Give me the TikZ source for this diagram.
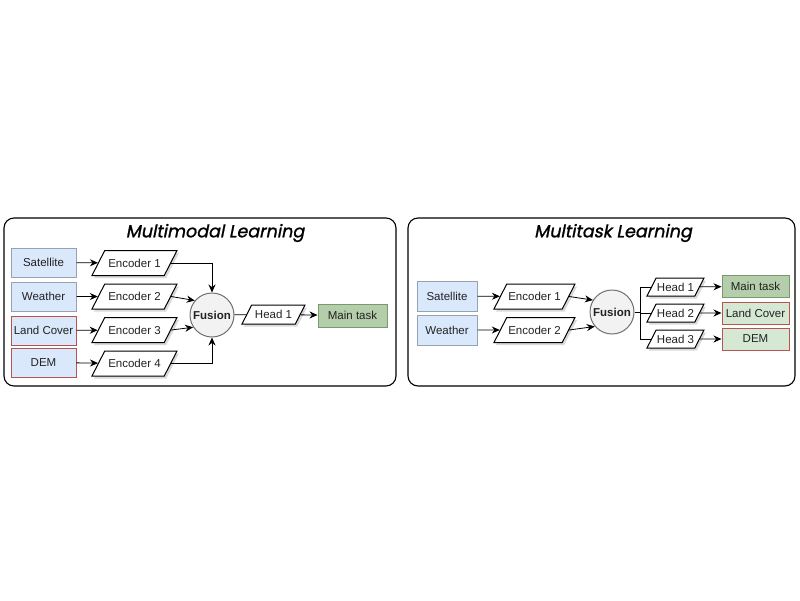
\documentclass[tikz,border=0pt]{standalone}
\usepackage{fontspec}
\setmainfont{Liberation Sans}
\newfontfamily\titlefont[FakeSlant=0.2,FakeBold=1.2]{Poppins}
\usetikzlibrary{calc}
\usetikzlibrary{positioning}
\usetikzlibrary{shapes.geometric,arrows.meta,shadows}

\definecolor{inblue}{HTML}{DAE8FC}
\definecolor{inedge}{HTML}{95A2B5}
\definecolor{redge}{HTML}{B85450}
\definecolor{taskgreen}{HTML}{B4CDAA}
\definecolor{taskedge}{HTML}{7A9A6E}
\definecolor{outgreen}{HTML}{D5E8D4}
\definecolor{fusfill}{HTML}{F2F2F2}
\definecolor{fusedge}{HTML}{707070}
\definecolor{txt}{HTML}{222222}

\tikzset{
  panel/.style={draw=black, line width=1.1pt, rounded corners=10pt},
  paneltitle/.style={font=\titlefont\fontsize{17.5}{20}\selectfont, text=black},
  databox/.style={draw=inedge, fill=inblue, line width=1pt, inner sep=0pt,
    minimum width=65pt, minimum height=29pt, text=txt,
    font=\fontsize{11.5}{13}\selectfont},
  redbox/.style={databox, draw=redge},
  taskbox/.style={draw=taskedge, fill=taskgreen, line width=1pt, inner sep=0pt,
    minimum width=69pt, minimum height=23pt, text=txt,
    font=\fontsize{11.5}{13}\selectfont},
  auxbox/.style={taskbox, fill=outgreen, draw=redge},
  % height of a parallelogram = text height + 2*inner ysep
  encbox/.style={trapezium, trapezium left angle=63, trapezium right angle=117,
    trapezium stretches body=true, draw=black, fill=white, line width=1pt,
    inner xsep=0pt, inner ysep=8.25pt, text height=8.5pt, text depth=0pt,
    minimum width=85pt, text=txt,
    font=\fontsize{11.5}{13}\selectfont,
    drop shadow={opacity=0.3, shadow xshift=2pt, shadow yshift=-2.5pt}},
  headbox/.style={encbox, minimum width=63pt, inner ysep=5.25pt},
  fusnode/.style={circle, draw=fusedge, fill=fusfill, line width=1pt,
    minimum size=44pt, inner sep=0pt, text=txt,
    font=\bfseries\fontsize{11.5}{13}\selectfont},
  link/.style={line width=0.8pt, -{Stealth[length=8pt,width=7pt]}},
  plain/.style={line width=0.8pt}
}

\begin{document}
\begin{tikzpicture}[x=1pt,y=-1pt]
\useasboundingbox (0,0) rectangle (800,600);
% left panel: multimodal
\draw[panel] (4,218) rectangle (396,386);
\node[paneltitle] (ttlA) at (215,233) {Multimodal Learning};
\node[databox] (satA) at (43.5,262.5) {Satellite};
\node[databox] (weaA) at (43.5,296.5) {Weather};
\node[redbox] (lcA) at (43.5,330.5) {Land Cover};
\node[redbox] (demA) at (43.5,362.5) {DEM};
\node[encbox] (encA1) at (134.5,263) {Encoder 1};
\node[encbox] (encA2) at (134.5,296.5) {Encoder 2};
\node[encbox] (encA3) at (134.5,330) {Encoder 3};
\node[encbox] (encA4) at (134.5,363.5) {Encoder 4};
\node[fusnode] (fusA) at (212,315) {Fusion};
\node[headbox] (headA1) at (273.5,314.5) {Head 1};
\node[taskbox] (mainA) at (352.5,315.5) {Main task};
\draw[link] (satA) -- (encA1);
\draw[link] (weaA) -- (encA2);
\draw[link] (lcA) -- (encA3);
\draw[link] (demA) -- (encA4);
\draw[link] (encA1.east) -| (fusA.north);
\draw[link] (encA2.east) -- (fusA.140);
\draw[link] (encA3.east) -- (fusA.213);
\draw[link] (encA4.east) -| (fusA.south);
\draw[plain] (fusA) -- (headA1);
\draw[link] (headA1) -- (mainA);
% right panel: multitask
\draw[panel] (408,218) rectangle (795,386);
\node[paneltitle] (ttlB) at (613,233) {Multitask Learning};
\node[databox, minimum width=60pt, minimum height=30pt] (satB) at (447,296) {Satellite};
\node[databox, minimum width=60pt, minimum height=30pt] (weaB) at (447,330) {Weather};
\node[encbox, minimum width=81pt] (encB1) at (534.5,296.5) {Encoder 1};
\node[encbox, minimum width=81pt] (encB2) at (534.5,330) {Encoder 2};
\node[fusnode] (fusB) at (612,312) {Fusion};
\node[headbox, minimum width=57pt, inner ysep=4.75pt] (headB1) at (675.5,287) {Head 1};
\node[headbox, minimum width=57pt, inner ysep=4.75pt] (headB2) at (675.5,313) {Head 2};
\node[headbox, minimum width=57pt, inner ysep=4.75pt] (headB3) at (675.5,339) {Head 3};
\node[taskbox, minimum width=67pt, minimum height=22pt] (mainB) at (755.5,286.5) {Main task};
\node[auxbox, minimum width=67pt, minimum height=22pt] (lcB) at (755.5,313) {Land Cover};
\node[auxbox, minimum width=67pt, minimum height=22pt] (demB) at (755.5,339) {DEM};
\coordinate (brB) at ($(fusB.east)+(6,0)$);
\draw[link] (satB) -- (encB1);
\draw[link] (weaB) -- (encB2);
\draw[link] (encB1.east) -- (fusB.148);
\draw[link] (encB2.east) -- (fusB.220);
\draw[plain] (fusB.east) -- (brB);
\draw[plain] (brB) |- (headB1.west);
\draw[plain] (brB) |- (headB2.west);
\draw[plain] (brB) |- (headB3.west);
\draw[link] (headB1) -- (mainB);
\draw[link] (headB2) -- (lcB);
\draw[link] (headB3) -- (demB);
\end{tikzpicture}
\end{document}
